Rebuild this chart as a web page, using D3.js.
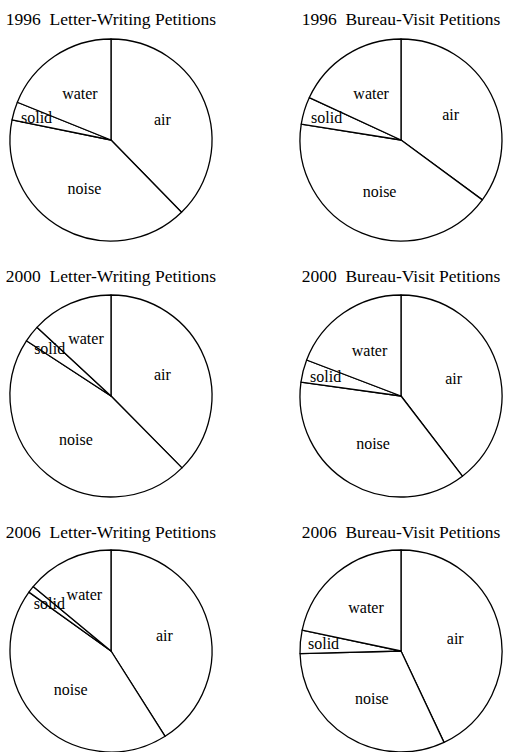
<!DOCTYPE html>
<html>
<head>
<meta charset="utf-8">
<script src="https://cdn.jsdelivr.net/npm/d3@7"></script>
<style>
  body { margin: 0; background: #fff; }
  svg { display: block; }
  .title { font-family: "Liberation Serif", "Times New Roman", serif; font-size: 17.5px; white-space: pre; }
  .label { font-family: "Liberation Serif", "Times New Roman", serif; font-size: 16px; }
</style>
</head>
<body>
<svg id="chart" width="507" height="752"></svg>
<script>
// data
const categories = ['air', 'noise', 'solid', 'water'];

const titles = [
  '1996  Letter-Writing Petitions',
  '1996  Bureau-Visit Petitions',
  '2000  Letter-Writing Petitions',
  '2000  Bureau-Visit Petitions',
  '2006  Letter-Writing Petitions',
  '2006  Bureau-Visit Petitions'
];

// percent shares, in category order
const letter1996 = [37.7, 40.5, 2.9, 18.9];
const bureau1996 = [35.1, 42.4, 4.4, 18.1];
const letter2000 = [37.6, 46.6, 2.7, 13.1];
const bureau2000 = [39.6, 37.6, 3.6, 19.2];
const letter2006 = [41.0, 43.9, 1.1, 14.0];
const bureau2006 = [43.0, 31.6, 3.7, 21.7];

const series = [letter1996, bureau1996, letter2000, bureau2000, letter2006, bureau2006];

function drawPies(svg) {

  // layout
  const colX = [111, 401],
    rowY = [140, 396, 651],
    titleDy = [-115, -114, -113],
    r = 101;

  const pie = d3.pie()
    .sort(null)
    .value(d => d.value);

  const arc = d3.arc()
    .innerRadius(0)
    .outerRadius(r);

  // label ring radius: thin slices get pushed outward
  function labelRadius(d) {
    const share = (d.endAngle - d.startAngle) / (2 * Math.PI);
    if (share < 0.06) return r * 0.77;
    if (share < 0.16) return r * 0.62;
    return r * 0.55;
  }

  const charts = svg.selectAll('g.pie').data(series)
    .join('g')
    .attr('class', 'pie')
    .attr('transform', (d, i) => `translate(${colX[i % 2]}, ${rowY[Math.floor(i / 2)]})`);

  // titles
  charts.append('text')
    .attr('class', 'title')
    .attr('text-anchor', 'middle')
    .attr('y', (d, i) => titleDy[Math.floor(i / 2)])
    .text((d, i) => titles[i]);

  // slices
  charts.selectAll('path')
    .data(d => pie(d.map((v, j) => ({ name: categories[j], value: v }))))
    .join('path')
    .attr('d', arc)
    .attr('fill', 'white')
    .attr('stroke', 'black')
    .attr('stroke-width', 1.3)
    .attr('stroke-linejoin', 'round');

  // slice labels
  charts.selectAll('.label')
    .data(d => pie(d.map((v, j) => ({ name: categories[j], value: v }))))
    .join('text')
    .attr('class', 'label')
    .attr('text-anchor', 'middle')
    .attr('dominant-baseline', 'central')
    .attr('transform', d => {
      const lr = labelRadius(d);
      const c = d3.arc().innerRadius(lr).outerRadius(lr).centroid(d);
      return `translate(${c[0]}, ${c[1]})`;
    })
    .text(d => d.data.name);
}

drawPies(d3.select('#chart'));
</script>
</body>
</html>
